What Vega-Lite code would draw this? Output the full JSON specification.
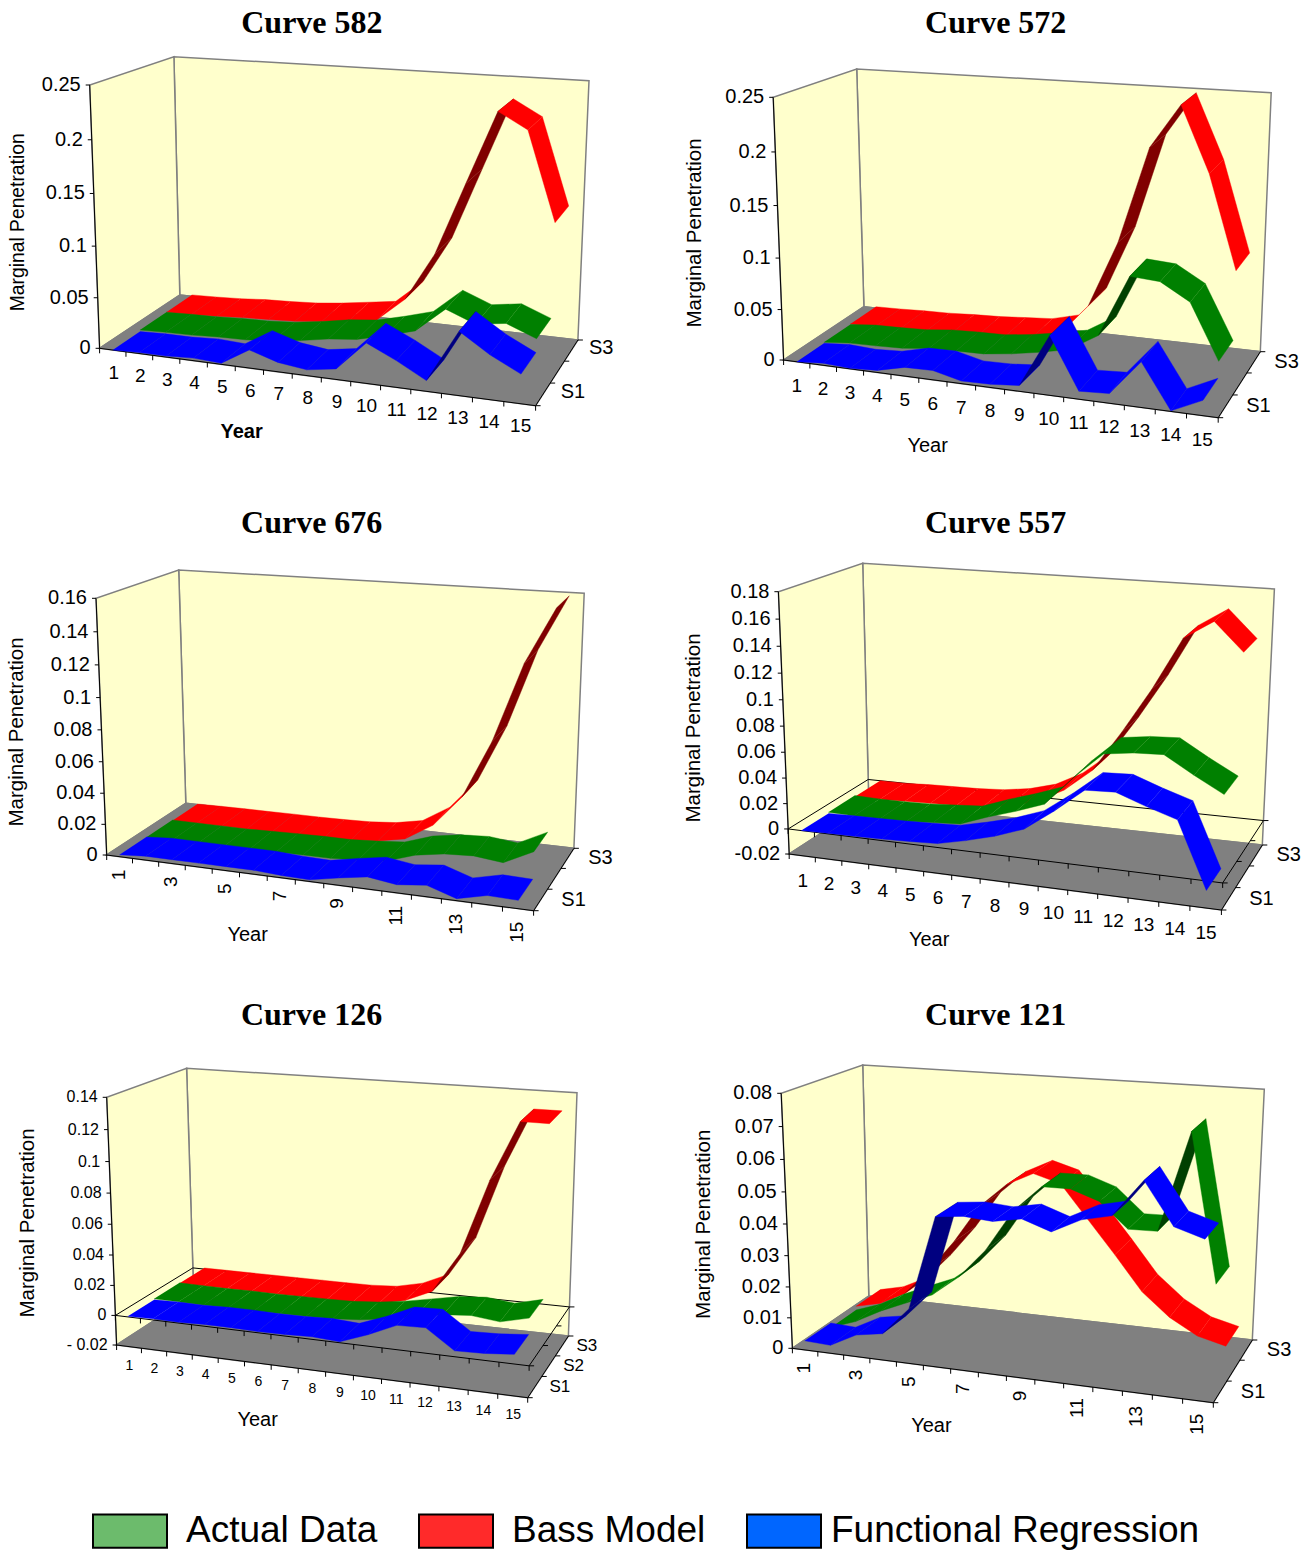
{"$schema":"https://vega.github.io/schema/vega-lite/v6.json","width":1315,"height":1552,"autosize":"none","padding":0,"background":"white","config":{"view":{"stroke":null}},
"params":[{"name":"cube","value":{
"582":{"x":[99.6,535.6,179.8,577.9,89.7,549.4,173.9,589],"y":[348.3,405.7,295,340,85,119,56.7,80.7],"lo":0,"hi":0.25,"title":[137,-35],"xtitle":[141,83],"ytitle":[-82,-126]},
"572":{"x":[783.6,1218.2,863.9,1260.3,773.2,1232.2,856.7,1271.2],"y":[360,417.7,306.7,351.7,97.3,131.3,69,92.7],"lo":0,"hi":0.25,"title":[138,-47],"xtitle":[143,85],"ytitle":[-89,-127]},
"676":{"x":[106.7,533.6,185.8,573.9,96,546.6,178.7,584.2],"y":[855,910.7,803.3,848.3,598.3,630.7,570,593.3],"lo":0,"hi":0.16,"title":[132,-48],"xtitle":[140,79],"ytitle":[-90,-123]},
"557":{"x":[789.2,1221.4,868.8,1262.3,778.4,1234.6,862.7,1274.4],"y":[854,910,802.3,845,591.7,626.7,563.3,589],"lo":-0.02,"hi":0.18,"title":[132,-41],"xtitle":[139,85],"ytitle":[-95,-126]},
"126":{"x":[116.6,527.7,193.7,568.4,106.7,539.5,186.6,577],"y":[1345,1397.7,1295,1336,1097.3,1131,1068.3,1092.7],"lo":-0.02,"hi":0.14,"title":[124,-54],"xtitle":[140,74],"ytitle":[-89,-122]},
"121":{"x":[792.4,1213.3,868.8,1252.3,781.2,1226.2,862.7,1264.3],"y":[1348.3,1402.7,1296,1340,1093.3,1126,1065,1089.3],"lo":0,"hi":0.08,"title":[132,-51],"xtitle":[138,77],"ytitle":[-88,-124]}
}}],
"data":{"values":[
{"kind":"legend","curve":582,"name":"Actual Data","stops":[0]},{"kind":"legend","curve":582,"name":"Bass Model","stops":[0]},{"kind":"legend","curve":582,"name":"Functional Regression","stops":[0]},
{"kind":"plane","part":"wall","curve":582,"stops":[0,1,2,3]},{"kind":"plane","part":"side","curve":582,"stops":[0,1,2,3]},{"kind":"plane","part":"floor","curve":582,"stops":[0,1,2,3]},
{"kind":"plane","part":"wall","curve":572,"stops":[0,1,2,3]},{"kind":"plane","part":"side","curve":572,"stops":[0,1,2,3]},{"kind":"plane","part":"floor","curve":572,"stops":[0,1,2,3]},
{"kind":"plane","part":"wall","curve":676,"stops":[0,1,2,3]},{"kind":"plane","part":"side","curve":676,"stops":[0,1,2,3]},{"kind":"plane","part":"floor","curve":676,"stops":[0,1,2,3]},
{"kind":"plane","part":"wall","curve":557,"stops":[0,1,2,3]},{"kind":"plane","part":"side","curve":557,"stops":[0,1,2,3]},{"kind":"plane","part":"floor","curve":557,"stops":[0,1,2,3]},
{"kind":"plane","part":"wall","curve":126,"stops":[0,1,2,3]},{"kind":"plane","part":"side","curve":126,"stops":[0,1,2,3]},{"kind":"plane","part":"floor","curve":126,"stops":[0,1,2,3]},
{"kind":"plane","part":"wall","curve":121,"stops":[0,1,2,3]},{"kind":"plane","part":"side","curve":121,"stops":[0,1,2,3]},{"kind":"plane","part":"floor","curve":121,"stops":[0,1,2,3]},
{"kind":"plane","part":"zero","curve":557,"stops":[0,1,2,3]},{"kind":"plane","part":"zero","curve":126,"stops":[0,1,2,3]},
{"kind":"edge","part":"x","curve":582,"stops":[0,1]},{"kind":"edge","part":"z","curve":582,"stops":[0,1]},{"kind":"edge","part":"y","curve":582,"stops":[0,1]},
{"kind":"edge","part":"x","curve":572,"stops":[0,1]},{"kind":"edge","part":"z","curve":572,"stops":[0,1]},{"kind":"edge","part":"y","curve":572,"stops":[0,1]},
{"kind":"edge","part":"x","curve":676,"stops":[0,1]},{"kind":"edge","part":"z","curve":676,"stops":[0,1]},{"kind":"edge","part":"y","curve":676,"stops":[0,1]},
{"kind":"edge","part":"x","curve":557,"stops":[0,1]},{"kind":"edge","part":"z","curve":557,"stops":[0,1]},{"kind":"edge","part":"y","curve":557,"stops":[0,1]},
{"kind":"edge","part":"x","curve":126,"stops":[0,1]},{"kind":"edge","part":"z","curve":126,"stops":[0,1]},{"kind":"edge","part":"y","curve":126,"stops":[0,1]},
{"kind":"edge","part":"x","curve":121,"stops":[0,1]},{"kind":"edge","part":"z","curve":121,"stops":[0,1]},{"kind":"edge","part":"y","curve":121,"stops":[0,1]},
{"kind":"xtick","curve":582,"stops":[0,1,2,3,4,5,6,7,8,9,10,11,12,13,14,15]},{"kind":"xtick","curve":572,"stops":[0,1,2,3,4,5,6,7,8,9,10,11,12,13,14,15]},{"kind":"xtick","curve":676,"stops":[0,1,2,3,4,5,6,7,8,9,10,11,12,13,14,15]},{"kind":"xtick","curve":557,"stops":[0,1,2,3,4,5,6,7,8,9,10,11,12,13,14,15]},{"kind":"xtick","curve":126,"stops":[0,1,2,3,4,5,6,7,8,9,10,11,12,13,14,15]},{"kind":"xtick","curve":121,"stops":[0,1,2,3,4,5,6,7,8,9,10,11,12,13,14,15]},
{"kind":"xtick","part":"zero","curve":557,"stops":[0,1,2,3,4,5,6,7,8,9,10,11,12,13,14,15]},{"kind":"xtick","part":"zero","curve":126,"stops":[0,1,2,3,4,5,6,7,8,9,10,11,12,13,14,15]},
{"kind":"ztick","curve":582,"stops":[0,1,2,3]},{"kind":"ztick","curve":572,"stops":[0,1,2,3]},{"kind":"ztick","curve":676,"stops":[0,1,2,3]},{"kind":"ztick","curve":557,"stops":[0,1,2,3]},{"kind":"ztick","curve":126,"stops":[0,1,2,3]},{"kind":"ztick","curve":121,"stops":[0,1,2,3]},
{"kind":"ztick","part":"zero","curve":557,"stops":[0,1,2,3]},{"kind":"ztick","part":"zero","curve":126,"stops":[0,1,2,3]},
{"kind":"ytick","curve":582,"stops":[0,0.05,0.1,0.15,0.2,0.25]},{"kind":"ytick","curve":572,"stops":[0,0.05,0.1,0.15,0.2,0.25]},
{"kind":"ytick","curve":676,"stops":[0,0.02,0.04,0.06,0.08,0.1,0.12,0.14,0.16]},
{"kind":"ytick","curve":557,"stops":[-0.02,0,0.02,0.04,0.06,0.08,0.1,0.12,0.14,0.16,0.18]},
{"kind":"ytick","curve":126,"stops":[-0.02,0,0.02,0.04,0.06,0.08,0.1,0.12,0.14]},
{"kind":"ytick","curve":121,"stops":[0,0.01,0.02,0.03,0.04,0.05,0.06,0.07,0.08]},
{"kind":"year","curve":582,"stops":[1,2,3,4,5,6,7,8,9,10,11,12,13,14,15]},{"kind":"year","curve":572,"stops":[1,2,3,4,5,6,7,8,9,10,11,12,13,14,15]},{"kind":"year","curve":557,"stops":[1,2,3,4,5,6,7,8,9,10,11,12,13,14,15]},{"kind":"year","curve":126,"stops":[1,2,3,4,5,6,7,8,9,10,11,12,13,14,15]},
{"kind":"year","curve":676,"stops":[1,3,5,7,9,11,13,15]},{"kind":"year","curve":121,"stops":[1,3,5,7,9,11,13,15]},
{"kind":"zlabel","curve":582,"stops":[0,2]},{"kind":"zlabel","curve":572,"stops":[0,2]},{"kind":"zlabel","curve":676,"stops":[0,2]},{"kind":"zlabel","curve":557,"stops":[0,2]},{"kind":"zlabel","curve":126,"stops":[0,1,2]},{"kind":"zlabel","curve":121,"stops":[0,2]},
{"kind":"title","curve":582,"label":"Curve 582","stops":[0]},{"kind":"title","curve":572,"label":"Curve 572","stops":[0]},{"kind":"title","curve":676,"label":"Curve 676","stops":[0]},{"kind":"title","curve":557,"label":"Curve 557","stops":[0]},{"kind":"title","curve":126,"label":"Curve 126","stops":[0]},{"kind":"title","curve":121,"label":"Curve 121","stops":[0]},
{"kind":"xtitle","curve":582,"label":"Year","stops":[0]},{"kind":"xtitle","curve":572,"label":"Year","stops":[0]},{"kind":"xtitle","curve":676,"label":"Year","stops":[0]},{"kind":"xtitle","curve":557,"label":"Year","stops":[0]},{"kind":"xtitle","curve":126,"label":"Year","stops":[0]},{"kind":"xtitle","curve":121,"label":"Year","stops":[0]},
{"kind":"ytitle","curve":582,"label":"Marginal Penetration","stops":[0]},{"kind":"ytitle","curve":572,"label":"Marginal Penetration","stops":[0]},{"kind":"ytitle","curve":676,"label":"Marginal Penetration","stops":[0]},{"kind":"ytitle","curve":557,"label":"Marginal Penetration","stops":[0]},{"kind":"ytitle","curve":126,"label":"Marginal Penetration","stops":[0]},{"kind":"ytitle","curve":121,"label":"Marginal Penetration","stops":[0]},
{"kind":"ribbon","curve":582,"series":"Bass Model","year":1,"value":0.0016},{"kind":"ribbon","curve":582,"series":"Bass Model","year":2,"value":0.0023},{"kind":"ribbon","curve":582,"series":"Bass Model","year":3,"value":0.0035},{"kind":"ribbon","curve":582,"series":"Bass Model","year":4,"value":0.0055},{"kind":"ribbon","curve":582,"series":"Bass Model","year":5,"value":0.0065},{"kind":"ribbon","curve":582,"series":"Bass Model","year":6,"value":0.008},{"kind":"ribbon","curve":582,"series":"Bass Model","year":7,"value":0.011},{"kind":"ribbon","curve":582,"series":"Bass Model","year":8,"value":0.015},{"kind":"ribbon","curve":582,"series":"Bass Model","year":9,"value":0.019},{"kind":"ribbon","curve":582,"series":"Bass Model","year":10,"value":0.043},{"kind":"ribbon","curve":582,"series":"Bass Model","year":11,"value":0.09},{"kind":"ribbon","curve":582,"series":"Bass Model","year":12,"value":0.16},{"kind":"ribbon","curve":582,"series":"Bass Model","year":13,"value":0.229},{"kind":"ribbon","curve":582,"series":"Bass Model","year":14,"value":0.214},{"kind":"ribbon","curve":582,"series":"Bass Model","year":15,"value":0.131},
{"kind":"ribbon","curve":582,"series":"Actual Data","year":1,"value":0.0015},{"kind":"ribbon","curve":582,"series":"Actual Data","year":2,"value":0.0025},{"kind":"ribbon","curve":582,"series":"Actual Data","year":3,"value":0.003},{"kind":"ribbon","curve":582,"series":"Actual Data","year":4,"value":0.0045},{"kind":"ribbon","curve":582,"series":"Actual Data","year":5,"value":0.005},{"kind":"ribbon","curve":582,"series":"Actual Data","year":6,"value":0.007},{"kind":"ribbon","curve":582,"series":"Actual Data","year":7,"value":0.011},{"kind":"ribbon","curve":582,"series":"Actual Data","year":8,"value":0.016},{"kind":"ribbon","curve":582,"series":"Actual Data","year":9,"value":0.019},{"kind":"ribbon","curve":582,"series":"Actual Data","year":10,"value":0.026},{"kind":"ribbon","curve":582,"series":"Actual Data","year":11,"value":0.034},{"kind":"ribbon","curve":582,"series":"Actual Data","year":12,"value":0.058},{"kind":"ribbon","curve":582,"series":"Actual Data","year":13,"value":0.047},{"kind":"ribbon","curve":582,"series":"Actual Data","year":14,"value":0.051},{"kind":"ribbon","curve":582,"series":"Actual Data","year":15,"value":0.04},
{"kind":"ribbon","curve":582,"series":"Functional Regression","year":1,"value":0},{"kind":"ribbon","curve":582,"series":"Functional Regression","year":2,"value":0.001},{"kind":"ribbon","curve":582,"series":"Functional Regression","year":3,"value":0.001},{"kind":"ribbon","curve":582,"series":"Functional Regression","year":4,"value":0.0025},{"kind":"ribbon","curve":582,"series":"Functional Regression","year":5,"value":0.001},{"kind":"ribbon","curve":582,"series":"Functional Regression","year":6,"value":0.0175},{"kind":"ribbon","curve":582,"series":"Functional Regression","year":7,"value":0.009},{"kind":"ribbon","curve":582,"series":"Functional Regression","year":8,"value":0.0055},{"kind":"ribbon","curve":582,"series":"Functional Regression","year":9,"value":0.01},{"kind":"ribbon","curve":582,"series":"Functional Regression","year":10,"value":0.038},{"kind":"ribbon","curve":582,"series":"Functional Regression","year":11,"value":0.025},{"kind":"ribbon","curve":582,"series":"Functional Regression","year":12,"value":0.01},{"kind":"ribbon","curve":582,"series":"Functional Regression","year":13,"value":0.059},{"kind":"ribbon","curve":582,"series":"Functional Regression","year":14,"value":0.041},{"kind":"ribbon","curve":582,"series":"Functional Regression","year":15,"value":0.027},
{"kind":"ribbon","curve":572,"series":"Bass Model","year":1,"value":0.0015},{"kind":"ribbon","curve":572,"series":"Bass Model","year":2,"value":0.002},{"kind":"ribbon","curve":572,"series":"Bass Model","year":3,"value":0.003},{"kind":"ribbon","curve":572,"series":"Bass Model","year":4,"value":0.0035},{"kind":"ribbon","curve":572,"series":"Bass Model","year":5,"value":0.005},{"kind":"ribbon","curve":572,"series":"Bass Model","year":6,"value":0.006},{"kind":"ribbon","curve":572,"series":"Bass Model","year":7,"value":0.008},{"kind":"ribbon","curve":572,"series":"Bass Model","year":8,"value":0.01},{"kind":"ribbon","curve":572,"series":"Bass Model","year":9,"value":0.017},{"kind":"ribbon","curve":572,"series":"Bass Model","year":10,"value":0.048},{"kind":"ribbon","curve":572,"series":"Bass Model","year":11,"value":0.113},{"kind":"ribbon","curve":572,"series":"Bass Model","year":12,"value":0.205},{"kind":"ribbon","curve":572,"series":"Bass Model","year":13,"value":0.246},{"kind":"ribbon","curve":572,"series":"Bass Model","year":14,"value":0.185},{"kind":"ribbon","curve":572,"series":"Bass Model","year":15,"value":0.097},
{"kind":"ribbon","curve":572,"series":"Actual Data","year":1,"value":0.001},{"kind":"ribbon","curve":572,"series":"Actual Data","year":2,"value":0.0035},{"kind":"ribbon","curve":572,"series":"Actual Data","year":3,"value":0.004},{"kind":"ribbon","curve":572,"series":"Actual Data","year":4,"value":0.005},{"kind":"ribbon","curve":572,"series":"Actual Data","year":5,"value":0.008},{"kind":"ribbon","curve":572,"series":"Actual Data","year":6,"value":0.009},{"kind":"ribbon","curve":572,"series":"Actual Data","year":7,"value":0.0095},{"kind":"ribbon","curve":572,"series":"Actual Data","year":8,"value":0.013},{"kind":"ribbon","curve":572,"series":"Actual Data","year":9,"value":0.018},{"kind":"ribbon","curve":572,"series":"Actual Data","year":10,"value":0.024},{"kind":"ribbon","curve":572,"series":"Actual Data","year":11,"value":0.041},{"kind":"ribbon","curve":572,"series":"Actual Data","year":12,"value":0.1},{"kind":"ribbon","curve":572,"series":"Actual Data","year":13,"value":0.098},{"kind":"ribbon","curve":572,"series":"Actual Data","year":14,"value":0.082},{"kind":"ribbon","curve":572,"series":"Actual Data","year":15,"value":0.03},
{"kind":"ribbon","curve":572,"series":"Functional Regression","year":1,"value":0},{"kind":"ribbon","curve":572,"series":"Functional Regression","year":2,"value":0.002},{"kind":"ribbon","curve":572,"series":"Functional Regression","year":3,"value":0.0005},{"kind":"ribbon","curve":572,"series":"Functional Regression","year":4,"value":0.002},{"kind":"ribbon","curve":572,"series":"Functional Regression","year":5,"value":0.0085},{"kind":"ribbon","curve":572,"series":"Functional Regression","year":6,"value":0.009},{"kind":"ribbon","curve":572,"series":"Functional Regression","year":7,"value":0.0025},{"kind":"ribbon","curve":572,"series":"Functional Regression","year":8,"value":0.003},{"kind":"ribbon","curve":572,"series":"Functional Regression","year":9,"value":0.0055},{"kind":"ribbon","curve":572,"series":"Functional Regression","year":10,"value":0.056},{"kind":"ribbon","curve":572,"series":"Functional Regression","year":11,"value":0.0075},{"kind":"ribbon","curve":572,"series":"Functional Regression","year":12,"value":0.009},{"kind":"ribbon","curve":572,"series":"Functional Regression","year":13,"value":0.042},{"kind":"ribbon","curve":572,"series":"Functional Regression","year":14,"value":0.0005},{"kind":"ribbon","curve":572,"series":"Functional Regression","year":15,"value":0.014},
{"kind":"ribbon","curve":676,"series":"Bass Model","year":1,"value":0.0005},{"kind":"ribbon","curve":676,"series":"Bass Model","year":2,"value":0.0008},{"kind":"ribbon","curve":676,"series":"Bass Model","year":3,"value":0.001},{"kind":"ribbon","curve":676,"series":"Bass Model","year":4,"value":0.001},{"kind":"ribbon","curve":676,"series":"Bass Model","year":5,"value":0.0012},{"kind":"ribbon","curve":676,"series":"Bass Model","year":6,"value":0.0012},{"kind":"ribbon","curve":676,"series":"Bass Model","year":7,"value":0.0015},{"kind":"ribbon","curve":676,"series":"Bass Model","year":8,"value":0.002},{"kind":"ribbon","curve":676,"series":"Bass Model","year":9,"value":0.0035},{"kind":"ribbon","curve":676,"series":"Bass Model","year":10,"value":0.007},{"kind":"ribbon","curve":676,"series":"Bass Model","year":11,"value":0.018},{"kind":"ribbon","curve":676,"series":"Bass Model","year":12,"value":0.038},{"kind":"ribbon","curve":676,"series":"Bass Model","year":13,"value":0.075},{"kind":"ribbon","curve":676,"series":"Bass Model","year":14,"value":0.124},{"kind":"ribbon","curve":676,"series":"Bass Model","year":15,"value":0.158},
{"kind":"ribbon","curve":676,"series":"Actual Data","year":1,"value":0.001},{"kind":"ribbon","curve":676,"series":"Actual Data","year":2,"value":0.001},{"kind":"ribbon","curve":676,"series":"Actual Data","year":3,"value":0.001},{"kind":"ribbon","curve":676,"series":"Actual Data","year":4,"value":0.001},{"kind":"ribbon","curve":676,"series":"Actual Data","year":5,"value":0.0015},{"kind":"ribbon","curve":676,"series":"Actual Data","year":6,"value":0.002},{"kind":"ribbon","curve":676,"series":"Actual Data","year":7,"value":0.0023},{"kind":"ribbon","curve":676,"series":"Actual Data","year":8,"value":0.0023},{"kind":"ribbon","curve":676,"series":"Actual Data","year":9,"value":0.0034},{"kind":"ribbon","curve":676,"series":"Actual Data","year":10,"value":0.005},{"kind":"ribbon","curve":676,"series":"Actual Data","year":11,"value":0.011},{"kind":"ribbon","curve":676,"series":"Actual Data","year":12,"value":0.014},{"kind":"ribbon","curve":676,"series":"Actual Data","year":13,"value":0.015},{"kind":"ribbon","curve":676,"series":"Actual Data","year":14,"value":0.013},{"kind":"ribbon","curve":676,"series":"Actual Data","year":15,"value":0.022},
{"kind":"ribbon","curve":676,"series":"Functional Regression","year":1,"value":0.0012},{"kind":"ribbon","curve":676,"series":"Functional Regression","year":2,"value":0.0025},{"kind":"ribbon","curve":676,"series":"Functional Regression","year":3,"value":0.0025},{"kind":"ribbon","curve":676,"series":"Functional Regression","year":4,"value":0.0025},{"kind":"ribbon","curve":676,"series":"Functional Regression","year":5,"value":0.0025},{"kind":"ribbon","curve":676,"series":"Functional Regression","year":6,"value":0.0025},{"kind":"ribbon","curve":676,"series":"Functional Regression","year":7,"value":0.0015},{"kind":"ribbon","curve":676,"series":"Functional Regression","year":8,"value":0.001},{"kind":"ribbon","curve":676,"series":"Functional Regression","year":9,"value":0.0045},{"kind":"ribbon","curve":676,"series":"Functional Regression","year":10,"value":0.0075},{"kind":"ribbon","curve":676,"series":"Functional Regression","year":11,"value":0.005},{"kind":"ribbon","curve":676,"series":"Functional Regression","year":12,"value":0.007},{"kind":"ribbon","curve":676,"series":"Functional Regression","year":13,"value":0.0012},{"kind":"ribbon","curve":676,"series":"Functional Regression","year":14,"value":0.0055},{"kind":"ribbon","curve":676,"series":"Functional Regression","year":15,"value":0.005},
{"kind":"ribbon","curve":557,"series":"Bass Model","year":1,"value":0},{"kind":"ribbon","curve":557,"series":"Bass Model","year":2,"value":0},{"kind":"ribbon","curve":557,"series":"Bass Model","year":3,"value":0.001},{"kind":"ribbon","curve":557,"series":"Bass Model","year":4,"value":0.0015},{"kind":"ribbon","curve":557,"series":"Bass Model","year":5,"value":0.002},{"kind":"ribbon","curve":557,"series":"Bass Model","year":6,"value":0.0033},{"kind":"ribbon","curve":557,"series":"Bass Model","year":7,"value":0.0065},{"kind":"ribbon","curve":557,"series":"Bass Model","year":8,"value":0.0125},{"kind":"ribbon","curve":557,"series":"Bass Model","year":9,"value":0.024},{"kind":"ribbon","curve":557,"series":"Bass Model","year":10,"value":0.042},{"kind":"ribbon","curve":557,"series":"Bass Model","year":11,"value":0.074},{"kind":"ribbon","curve":557,"series":"Bass Model","year":12,"value":0.109},{"kind":"ribbon","curve":557,"series":"Bass Model","year":13,"value":0.149},{"kind":"ribbon","curve":557,"series":"Bass Model","year":14,"value":0.163},{"kind":"ribbon","curve":557,"series":"Bass Model","year":15,"value":0.142},
{"kind":"ribbon","curve":557,"series":"Actual Data","year":1,"value":0.001},{"kind":"ribbon","curve":557,"series":"Actual Data","year":2,"value":0.0005},{"kind":"ribbon","curve":557,"series":"Actual Data","year":3,"value":0.0005},{"kind":"ribbon","curve":557,"series":"Actual Data","year":4,"value":0.001},{"kind":"ribbon","curve":557,"series":"Actual Data","year":5,"value":0.0025},{"kind":"ribbon","curve":557,"series":"Actual Data","year":6,"value":0.004},{"kind":"ribbon","curve":557,"series":"Actual Data","year":7,"value":0.012},{"kind":"ribbon","curve":557,"series":"Actual Data","year":8,"value":0.019},{"kind":"ribbon","curve":557,"series":"Actual Data","year":9,"value":0.027},{"kind":"ribbon","curve":557,"series":"Actual Data","year":10,"value":0.05},{"kind":"ribbon","curve":557,"series":"Actual Data","year":11,"value":0.07},{"kind":"ribbon","curve":557,"series":"Actual Data","year":12,"value":0.073},{"kind":"ribbon","curve":557,"series":"Actual Data","year":13,"value":0.074},{"kind":"ribbon","curve":557,"series":"Actual Data","year":14,"value":0.061},{"kind":"ribbon","curve":557,"series":"Actual Data","year":15,"value":0.049},
{"kind":"ribbon","curve":557,"series":"Functional Regression","year":1,"value":0},{"kind":"ribbon","curve":557,"series":"Functional Regression","year":2,"value":0.0005},{"kind":"ribbon","curve":557,"series":"Functional Regression","year":3,"value":0.0008},{"kind":"ribbon","curve":557,"series":"Functional Regression","year":4,"value":0.0012},{"kind":"ribbon","curve":557,"series":"Functional Regression","year":5,"value":0.002},{"kind":"ribbon","curve":557,"series":"Functional Regression","year":6,"value":0.003},{"kind":"ribbon","curve":557,"series":"Functional Regression","year":7,"value":0.008},{"kind":"ribbon","curve":557,"series":"Functional Regression","year":8,"value":0.014},{"kind":"ribbon","curve":557,"series":"Functional Regression","year":9,"value":0.022},{"kind":"ribbon","curve":557,"series":"Functional Regression","year":10,"value":0.038},{"kind":"ribbon","curve":557,"series":"Functional Regression","year":11,"value":0.056},{"kind":"ribbon","curve":557,"series":"Functional Regression","year":12,"value":0.057},{"kind":"ribbon","curve":557,"series":"Functional Regression","year":13,"value":0.049},{"kind":"ribbon","curve":557,"series":"Functional Regression","year":14,"value":0.042},{"kind":"ribbon","curve":557,"series":"Functional Regression","year":15,"value":-0.007},
{"kind":"ribbon","curve":126,"series":"Bass Model","year":1,"value":0.0008},{"kind":"ribbon","curve":126,"series":"Bass Model","year":2,"value":0.0008},{"kind":"ribbon","curve":126,"series":"Bass Model","year":3,"value":0.0008},{"kind":"ribbon","curve":126,"series":"Bass Model","year":4,"value":0.0008},{"kind":"ribbon","curve":126,"series":"Bass Model","year":5,"value":0.0008},{"kind":"ribbon","curve":126,"series":"Bass Model","year":6,"value":0.0008},{"kind":"ribbon","curve":126,"series":"Bass Model","year":7,"value":0.0008},{"kind":"ribbon","curve":126,"series":"Bass Model","year":8,"value":0.0009},{"kind":"ribbon","curve":126,"series":"Bass Model","year":9,"value":0.002},{"kind":"ribbon","curve":126,"series":"Bass Model","year":10,"value":0.006},{"kind":"ribbon","curve":126,"series":"Bass Model","year":11,"value":0.014},{"kind":"ribbon","curve":126,"series":"Bass Model","year":12,"value":0.041},{"kind":"ribbon","curve":126,"series":"Bass Model","year":13,"value":0.09},{"kind":"ribbon","curve":126,"series":"Bass Model","year":14,"value":0.128},{"kind":"ribbon","curve":126,"series":"Bass Model","year":15,"value":0.128},
{"kind":"ribbon","curve":126,"series":"Actual Data","year":1,"value":0.0012},{"kind":"ribbon","curve":126,"series":"Actual Data","year":2,"value":0.001},{"kind":"ribbon","curve":126,"series":"Actual Data","year":3,"value":0.0008},{"kind":"ribbon","curve":126,"series":"Actual Data","year":4,"value":0.001},{"kind":"ribbon","curve":126,"series":"Actual Data","year":5,"value":0.0008},{"kind":"ribbon","curve":126,"series":"Actual Data","year":6,"value":0.001},{"kind":"ribbon","curve":126,"series":"Actual Data","year":7,"value":0.0012},{"kind":"ribbon","curve":126,"series":"Actual Data","year":8,"value":0.0015},{"kind":"ribbon","curve":126,"series":"Actual Data","year":9,"value":0.003},{"kind":"ribbon","curve":126,"series":"Actual Data","year":10,"value":0.0055},{"kind":"ribbon","curve":126,"series":"Actual Data","year":11,"value":0.009},{"kind":"ribbon","curve":126,"series":"Actual Data","year":12,"value":0.0125},{"kind":"ribbon","curve":126,"series":"Actual Data","year":13,"value":0.014},{"kind":"ribbon","curve":126,"series":"Actual Data","year":14,"value":0.012},{"kind":"ribbon","curve":126,"series":"Actual Data","year":15,"value":0.0165},
{"kind":"ribbon","curve":126,"series":"Functional Regression","year":1,"value":0.0004},{"kind":"ribbon","curve":126,"series":"Functional Regression","year":2,"value":0.0008},{"kind":"ribbon","curve":126,"series":"Functional Regression","year":3,"value":0.0006},{"kind":"ribbon","curve":126,"series":"Functional Regression","year":4,"value":0.0012},{"kind":"ribbon","curve":126,"series":"Functional Regression","year":5,"value":0.0012},{"kind":"ribbon","curve":126,"series":"Functional Regression","year":6,"value":0.0008},{"kind":"ribbon","curve":126,"series":"Functional Regression","year":7,"value":0.001},{"kind":"ribbon","curve":126,"series":"Functional Regression","year":8,"value":0.0017},{"kind":"ribbon","curve":126,"series":"Functional Regression","year":9,"value":0.0006},{"kind":"ribbon","curve":126,"series":"Functional Regression","year":10,"value":0.0073},{"kind":"ribbon","curve":126,"series":"Functional Regression","year":11,"value":0.0154},{"kind":"ribbon","curve":126,"series":"Functional Regression","year":12,"value":0.016},{"kind":"ribbon","curve":126,"series":"Functional Regression","year":13,"value":0.0037},{"kind":"ribbon","curve":126,"series":"Functional Regression","year":14,"value":0.0043},{"kind":"ribbon","curve":126,"series":"Functional Regression","year":15,"value":0.006},
{"kind":"ribbon","curve":121,"series":"Bass Model","year":1,"value":0.0028},{"kind":"ribbon","curve":121,"series":"Bass Model","year":2,"value":0.0048},{"kind":"ribbon","curve":121,"series":"Bass Model","year":3,"value":0.009},{"kind":"ribbon","curve":121,"series":"Bass Model","year":4,"value":0.018},{"kind":"ribbon","curve":121,"series":"Bass Model","year":5,"value":0.0285},{"kind":"ribbon","curve":121,"series":"Bass Model","year":6,"value":0.041},{"kind":"ribbon","curve":121,"series":"Bass Model","year":7,"value":0.0487},{"kind":"ribbon","curve":121,"series":"Bass Model","year":8,"value":0.053},{"kind":"ribbon","curve":121,"series":"Bass Model","year":9,"value":0.0505},{"kind":"ribbon","curve":121,"series":"Bass Model","year":10,"value":0.04},{"kind":"ribbon","curve":121,"series":"Bass Model","year":11,"value":0.0295},{"kind":"ribbon","curve":121,"series":"Bass Model","year":12,"value":0.0185},{"kind":"ribbon","curve":121,"series":"Bass Model","year":13,"value":0.0112},{"kind":"ribbon","curve":121,"series":"Bass Model","year":14,"value":0.0062},{"kind":"ribbon","curve":121,"series":"Bass Model","year":15,"value":0.004},
{"kind":"ribbon","curve":121,"series":"Actual Data","year":1,"value":0.0015},{"kind":"ribbon","curve":121,"series":"Actual Data","year":2,"value":0.0045},{"kind":"ribbon","curve":121,"series":"Actual Data","year":3,"value":0.009},{"kind":"ribbon","curve":121,"series":"Actual Data","year":4,"value":0.0127},{"kind":"ribbon","curve":121,"series":"Actual Data","year":5,"value":0.0163},{"kind":"ribbon","curve":121,"series":"Actual Data","year":6,"value":0.023},{"kind":"ribbon","curve":121,"series":"Actual Data","year":7,"value":0.0325},{"kind":"ribbon","curve":121,"series":"Actual Data","year":8,"value":0.0457},{"kind":"ribbon","curve":121,"series":"Actual Data","year":9,"value":0.0539},{"kind":"ribbon","curve":121,"series":"Actual Data","year":10,"value":0.054},{"kind":"ribbon","curve":121,"series":"Actual Data","year":11,"value":0.051},{"kind":"ribbon","curve":121,"series":"Actual Data","year":12,"value":0.0434},{"kind":"ribbon","curve":121,"series":"Actual Data","year":13,"value":0.0436},{"kind":"ribbon","curve":121,"series":"Actual Data","year":14,"value":0.0739},{"kind":"ribbon","curve":121,"series":"Actual Data","year":15,"value":0.0294},
{"kind":"ribbon","curve":121,"series":"Functional Regression","year":1,"value":0.003},{"kind":"ribbon","curve":121,"series":"Functional Regression","year":2,"value":0.0026},{"kind":"ribbon","curve":121,"series":"Functional Regression","year":3,"value":0.007},{"kind":"ribbon","curve":121,"series":"Functional Regression","year":4,"value":0.0085},{"kind":"ribbon","curve":121,"series":"Functional Regression","year":5,"value":0.0174},{"kind":"ribbon","curve":121,"series":"Functional Regression","year":6,"value":0.0468},{"kind":"ribbon","curve":121,"series":"Functional Regression","year":7,"value":0.0477},{"kind":"ribbon","curve":121,"series":"Functional Regression","year":8,"value":0.047},{"kind":"ribbon","curve":121,"series":"Functional Regression","year":9,"value":0.0486},{"kind":"ribbon","curve":121,"series":"Functional Regression","year":10,"value":0.0456},{"kind":"ribbon","curve":121,"series":"Functional Regression","year":11,"value":0.05},{"kind":"ribbon","curve":121,"series":"Functional Regression","year":12,"value":0.052},{"kind":"ribbon","curve":121,"series":"Functional Regression","year":13,"value":0.063},{"kind":"ribbon","curve":121,"series":"Functional Regression","year":14,"value":0.0505},{"kind":"ribbon","curve":121,"series":"Functional Regression","year":15,"value":0.0478}
]},
"transform":[
{"window":[{"op":"lead","field":"value","as":"next"}],"sort":[{"field":"year","order":"ascending"}],"groupby":["kind","curve","series"]},
{"filter":"datum.kind!=='ribbon'||datum.year<15"},
{"calculate":"datum.kind==='ribbon'?[0,1,2,3]:datum.stops","as":"cc"},
{"flatten":["cc"],"as":["c"]},
{"calculate":"cube[datum.curve].lo","as":"lo"},
{"calculate":"cube[datum.curve].hi","as":"hi"},
{"calculate":"cube[datum.curve].x","as":"gx"},
{"calculate":"cube[datum.curve].y","as":"gy"},
{"calculate":"indexof(['Functional Regression','Actual Data','Bass Model'],datum.series)","as":"si"},
{"calculate":"datum.c==1||datum.c==2?1:0","as":"mid"},
{"calculate":"datum.kind==='ribbon'?(datum.year-0.5+datum.mid)/15:datum.kind==='plane'?(datum.part==='side'?0:datum.mid):datum.kind==='year'?(datum.c-0.5)/15:datum.kind==='xtick'?datum.c/15:(datum.kind==='ztick'||datum.kind==='zlabel')?1:(datum.kind==='edge'&&datum.part==='x')?datum.c:(datum.kind==='edge'&&datum.part==='z')?1:0","as":"t"},
{"calculate":"datum.kind==='ribbon'?(datum.si+(datum.c>=2?1:0))/3:datum.kind==='plane'?(datum.part==='wall'?1:datum.part==='side'?datum.mid:(datum.c>=2?1:0)):datum.kind==='ztick'?datum.c/3:datum.kind==='zlabel'?(datum.c+0.5)/3:(datum.kind==='edge'&&datum.part==='z')?datum.c:datum.kind==='title'?1:0","as":"s"},
{"calculate":"datum.kind==='ribbon'?(((datum.c==0||datum.c==3)?datum.value:datum.next)-datum.lo)/(datum.hi-datum.lo):datum.kind==='plane'?((datum.part==='wall'||datum.part==='side')?(datum.c>=2?1:0):datum.part==='zero'?-datum.lo/(datum.hi-datum.lo):0):datum.kind==='ytick'?(datum.c-datum.lo)/(datum.hi-datum.lo):datum.part==='zero'?-datum.lo/(datum.hi-datum.lo):(datum.kind==='edge'&&datum.part==='y')?datum.c:datum.kind==='title'?1:0","as":"h"},
{"calculate":"datum.t*(0.9+0.1*datum.t)","as":"u"},
{"calculate":"datum.s*(1.05-0.05*datum.s)","as":"v"},
{"calculate":"datum.h*(0.95+0.05*datum.h)","as":"w"},
{"calculate":"datum.gx[0]*(1-datum.u)*(1-datum.v)+datum.gx[1]*datum.u*(1-datum.v)+datum.gx[2]*(1-datum.u)*datum.v+datum.gx[3]*datum.u*datum.v","as":"fx"},
{"calculate":"datum.gx[4]*(1-datum.u)*(1-datum.v)+datum.gx[5]*datum.u*(1-datum.v)+datum.gx[6]*(1-datum.u)*datum.v+datum.gx[7]*datum.u*datum.v","as":"tx"},
{"calculate":"datum.gy[0]*(1-datum.u)*(1-datum.v)+datum.gy[1]*datum.u*(1-datum.v)+datum.gy[2]*(1-datum.u)*datum.v+datum.gy[3]*datum.u*datum.v","as":"fy"},
{"calculate":"datum.gy[4]*(1-datum.u)*(1-datum.v)+datum.gy[5]*datum.u*(1-datum.v)+datum.gy[6]*(1-datum.u)*datum.v+datum.gy[7]*datum.u*datum.v","as":"ty"},
{"calculate":"datum.fx+(datum.tx-datum.fx)*datum.w","as":"ax"},
{"calculate":"datum.fy+(datum.ty-datum.fy)*datum.w","as":"ay"},
{"calculate":"datum.kind==='title'||datum.kind==='xtitle'?cube[datum.curve][datum.kind][0]+1:datum.kind==='ytitle'?cube[datum.curve][datum.kind][0]:datum.kind==='ytick'?-9:datum.kind==='year'?(datum.curve===676||datum.curve===121?-1:datum.curve===582?1:datum.curve===572?0:0.5):datum.kind==='zlabel'?(datum.curve===582?30:datum.curve===126?25:33):0","as":"ox"},
{"calculate":"datum.kind==='title'||datum.kind==='xtitle'?cube[datum.curve][datum.kind][1]+1:datum.kind==='ytitle'?cube[datum.curve][datum.kind][1]:datum.kind==='year'?(datum.curve===676||datum.curve===121?13:datum.curve===582?22.5:datum.curve===572?24:datum.curve===557?25:19):datum.kind==='zlabel'?(datum.curve===582?-2:0):0","as":"oy"},
{"calculate":"datum.ax+datum.ox","as":"px"},
{"calculate":"datum.ay+datum.oy","as":"py"},
{"calculate":"datum.kind==='ytick'?datum.ax-4:datum.kind==='ztick'?datum.ax+5:datum.ax","as":"px2"},
{"calculate":"datum.kind==='xtick'?datum.ay+5:datum.ay","as":"py2"},
{"calculate":"datum.kind==='ytitle'?(datum.curve===582?19.3:20.5):datum.curve===126?(datum.kind==='ytick'?16:datum.kind==='year'?14:17):(datum.kind==='zlabel'?20:datum.kind==='year'?19:20)","as":"fs"},
{"calculate":"datum.kind==='ytick'?(datum.curve===126?replace(datum.c+'','-','- '):datum.c+''):datum.kind==='year'?datum.c+'':datum.kind==='zlabel'?'S'+(datum.c+1):datum.label","as":"txt"},
{"calculate":"datum.kind==='ribbon'?datum.curve+'|'+datum.series+'|'+datum.year:datum.curve+'|'+datum.part","as":"seg"}
],
"encoding":{"x":{"field":"px","type":"quantitative","scale":{"domain":[0,1315],"nice":false,"zero":false},"axis":null},"y":{"field":"py","type":"quantitative","scale":{"domain":[1552,0],"nice":false,"zero":false},"axis":null}},
"resolve":{"scale":{"fill":"independent","stroke":"independent"}},
"layer":[
{"transform":[{"filter":"datum.kind==='plane'&&datum.part!=='zero'"}],"mark":{"type":"line","interpolate":"linear-closed","stroke":"#808080","strokeWidth":1.5},"encoding":{"detail":{"field":"seg"},"order":{"field":"c","type":"quantitative"},"fill":{"field":"part","type":"nominal","scale":{"domain":["wall","side","floor"],"range":["#FFFFCC","#FFFFCC","#808080"]},"legend":null}}},
{"transform":[{"filter":"datum.kind==='plane'&&datum.part==='zero'"}],"mark":{"type":"line","interpolate":"linear-closed","stroke":"#000000","strokeWidth":1},"encoding":{"detail":{"field":"seg"},"order":{"field":"c","type":"quantitative"}}},
{"transform":[{"filter":"datum.kind==='edge'"}],"mark":{"type":"line","stroke":"#000000","strokeWidth":1},"encoding":{"detail":{"field":"seg"},"order":{"field":"c","type":"quantitative"}}},
{"transform":[{"filter":"datum.kind==='xtick'||datum.kind==='ztick'||datum.kind==='ytick'"}],"mark":{"type":"rule","stroke":"#000000","strokeWidth":1},"encoding":{"x":{"field":"ax","type":"quantitative","scale":{"domain":[0,1315],"nice":false,"zero":false},"axis":null},"y":{"field":"ay","type":"quantitative","scale":{"domain":[1552,0],"nice":false,"zero":false},"axis":null},"x2":{"field":"px2"},"y2":{"field":"py2"}}},
{"transform":[{"filter":"datum.kind==='ribbon'"},
{"window":[{"op":"lead","field":"px","as":"nx"},{"op":"lead","field":"py","as":"ny"},{"op":"first_value","field":"px","as":"x0"},{"op":"first_value","field":"py","as":"y0"}],"sort":[{"field":"c","order":"ascending"}],"groupby":["seg"]},
{"calculate":"datum.px*(isValid(datum.ny)?datum.ny:datum.y0)-(isValid(datum.nx)?datum.nx:datum.x0)*datum.py","as":"shoe"},
{"joinaggregate":[{"op":"sum","field":"shoe","as":"area"}],"groupby":["seg"]},
{"calculate":"datum.series+(datum.area>0?'|under':'|top')","as":"face"}],
"mark":{"type":"line","strokeWidth":0.4},"encoding":{"detail":{"field":"seg"},"order":{"field":"c","type":"quantitative"},
"fill":{"field":"face","type":"nominal","scale":{"domain":["Bass Model|top","Bass Model|under","Actual Data|top","Actual Data|under","Functional Regression|top","Functional Regression|under"],"range":["#FF0000","#800000","#008000","#004000","#0000FF","#000080"]},"legend":null},
"stroke":{"field":"face","type":"nominal","scale":{"domain":["Bass Model|top","Bass Model|under","Actual Data|top","Actual Data|under","Functional Regression|top","Functional Regression|under"],"range":["#FF0000","#800000","#008000","#004000","#0000FF","#000080"]},"legend":null}}},
{"transform":[{"filter":"datum.kind==='title'"}],"mark":{"type":"text","font":"Liberation Serif","fontWeight":"bold","fontSize":32,"align":"center","baseline":"middle"},"encoding":{"text":{"field":"txt"}}},
{"transform":[{"filter":"datum.kind==='xtitle'&&datum.curve===582"}],"mark":{"type":"text","font":"Liberation Sans","fontWeight":"bold","fontSize":20,"align":"center","baseline":"middle"},"encoding":{"text":{"field":"txt"}}},
{"transform":[{"filter":"datum.kind==='xtitle'&&datum.curve!==582"}],"mark":{"type":"text","font":"Liberation Sans","fontSize":20,"align":"center","baseline":"middle"},"encoding":{"text":{"field":"txt"}}},
{"transform":[{"filter":"datum.kind==='ytitle'"}],"mark":{"type":"text","font":"Liberation Sans","align":"center","baseline":"middle","angle":270},"encoding":{"text":{"field":"txt"},"size":{"field":"fs","type":"quantitative","scale":null}}},
{"transform":[{"filter":"datum.kind==='ytick'"}],"mark":{"type":"text","font":"Liberation Sans","align":"right","baseline":"middle"},"encoding":{"text":{"field":"txt"},"size":{"field":"fs","type":"quantitative","scale":null}}},
{"transform":[{"filter":"datum.kind==='year'&&datum.curve!==676&&datum.curve!==121"}],"mark":{"type":"text","font":"Liberation Sans","align":"center","baseline":"middle"},"encoding":{"text":{"field":"txt"},"size":{"field":"fs","type":"quantitative","scale":null}}},
{"transform":[{"filter":"datum.kind==='year'&&(datum.curve===676||datum.curve===121)"}],"mark":{"type":"text","font":"Liberation Sans","align":"right","baseline":"middle","angle":270},"encoding":{"text":{"field":"txt"},"size":{"field":"fs","type":"quantitative","scale":null}}},
{"transform":[{"filter":"datum.kind==='zlabel'"}],"mark":{"type":"text","font":"Liberation Sans","align":"center","baseline":"middle"},"encoding":{"text":{"field":"txt"},"size":{"field":"fs","type":"quantitative","scale":null}}},
{"transform":[{"filter":"datum.kind==='legend'"}],"mark":{"type":"point","filled":true,"size":0},"encoding":{"fill":{"field":"name","type":"nominal","scale":{"domain":["Actual Data","Bass Model","Functional Regression"],"range":["#6CBB6C","#FF2A2A","#0066FF"]},"legend":{"title":null,"orient":"none","legendX":92,"legendY":1493,"direction":"horizontal","columns":3,"symbolType":"M-1,-0.45H1V0.45H-1Z","symbolSize":5476,"symbolStrokeColor":"#000000","symbolStrokeWidth":2,"symbolOpacity":1,"labelFont":"Liberation Sans","labelFontSize":37,"labelColor":"#000000","labelOffset":18,"labelLimit":500,"columnPadding":37,"padding":0,"encoding":{"labels":{"dx":{"value":{"signal":"datum.label==='Functional Regression'?-9:0"}}}}}}}}
]}
